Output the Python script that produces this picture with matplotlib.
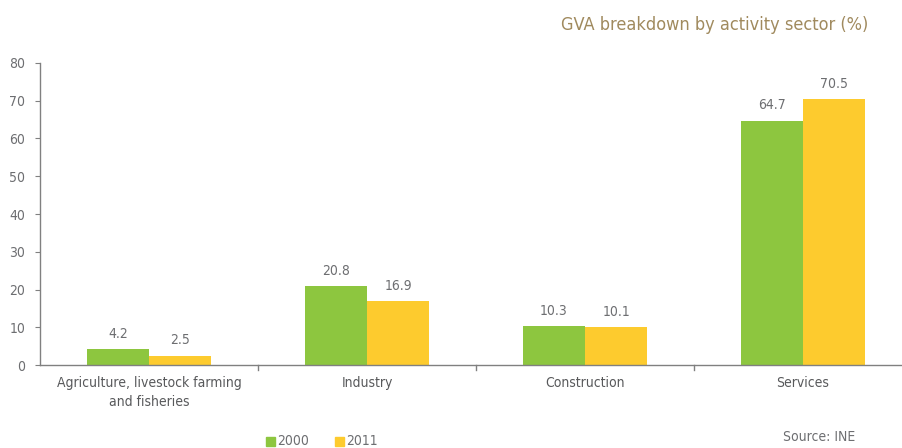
import matplotlib
matplotlib.use("Agg")
import matplotlib.pyplot as plt
import numpy as np

plt.rcParams['font.family'] = ['DejaVu Sans']
plt.rcParams['font.stretch'] = 'condensed'

categories = ["Agriculture, livestock farming\nand fisheries", "Industry", "Construction", "Services"]
series_names = ["2000", "2011"]
values_2000 = [4.2, 20.8, 10.3, 64.7]
values_2011 = [2.5, 16.9, 10.1, 70.5]
colors = ["#8DC63F", "#FDCB2E"]
yticks = [0, 10, 20, 30, 40, 50, 60, 70, 80]

W, H = 903, 448
fig = plt.figure(figsize=(W/100, H/100), dpi=100)
ax = fig.add_axes([40/W, 1-365/H, (903-40)/W, (365-63)/H])

x = np.arange(len(categories))
bw = 0.285
for vals, off, c in [(values_2000, -bw/2, colors[0]), (values_2011, bw/2, colors[1])]:
    bars = ax.bar(x + off, vals, bw, color=c)
    for b, v in zip(bars, vals):
        ax.text(b.get_x()+b.get_width()/2, v + 2.2, f"{v}", ha="center", va="bottom",
                fontsize=10, color="#6d6e71")

ax.set_xlim(-0.5, -0.5 + (903-40)/218)
ax.set_ylim(0, 80)
ax.set_yticks(yticks)
ax.set_yticklabels([str(t) for t in yticks], fontsize=10, color="#6d6e71")
ax.set_xticks(x)
ax.set_xticklabels(categories, fontsize=10, color="#58595b", linespacing=1.4)
ax.tick_params(axis='x', length=0, pad=8)
ax.tick_params(axis='y', length=3.6, color="#808080", pad=7, direction='out')
for xb in [0.5, 1.5, 2.5]:
    ax.plot([xb, xb], [0, -1.3], color="#808080", lw=1, clip_on=False)
for s in ["top", "right"]:
    ax.spines[s].set_visible(False)
for s in ["left", "bottom"]:
    ax.spines[s].set_color("#808080")
    ax.spines[s].set_linewidth(1)

fig.text(868/W, 1-25/H, "GVA breakdown by activity sector (%)", ha="right", va="center",
         fontsize=13, color="#A08A5E")
fig.text(855/W, 1-437/H, "Source: INE", ha="right", va="center", fontsize=10, color="#6d6e71")

# legend
for xp, lab, c in [(266, "2000", colors[0]), (335, "2011", colors[1])]:
    fig.patches.append(plt.Rectangle((xp/W, 1-446/H), 9/W, 9/H, transform=fig.transFigure,
                                     color=c, figure=fig))
    fig.text((xp+11)/W, 1-441/H, lab, ha="left", va="center", fontsize=10, color="#6d6e71")

fig.savefig("out.png", dpi=100)
